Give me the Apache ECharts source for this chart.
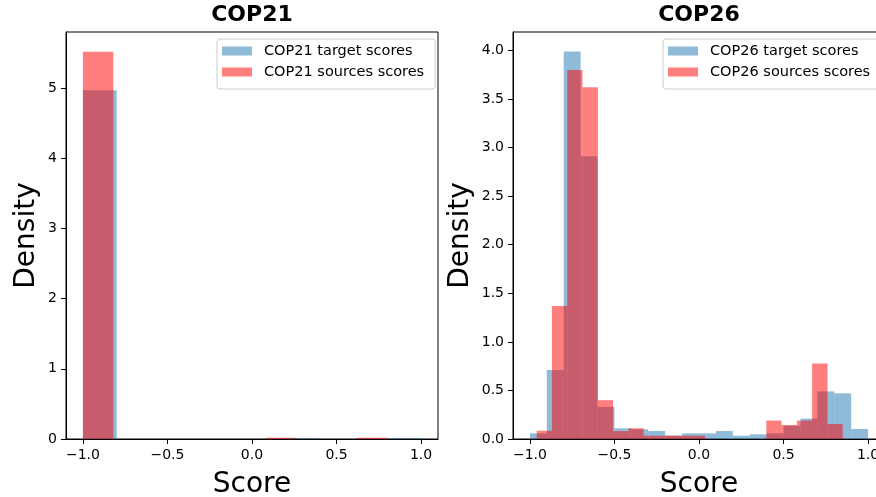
<!DOCTYPE html>
<html>
<head>
<meta charset="utf-8">
<script src="https://cdn.jsdelivr.net/npm/echarts@6/dist/echarts.min.js"></script>
<style>
  html, body { margin: 0; padding: 0; background: #fff; }
  #chart { width: 876px; height: 497px; }
</style>
</head>
<body>
<div id="chart"></div>
<script>
// Score histograms (density) for the two conferences.
// Each series: bin edges (n+1) and density per bin (n).
const cop21TargetEdges = [-1.0, -0.8, -0.6, -0.4, -0.2, 0.0, 0.2, 0.4, 0.6, 0.8, 1.0];
const cop21TargetDensity = [4.97, 0, 0, 0, 0, 0, 0.015, 0, 0, 0.015];
const cop21SourcesEdges = [-1.0, -0.82, -0.64, -0.46, -0.28, -0.10, 0.08, 0.26, 0.44, 0.62, 0.80];
const cop21SourcesDensity = [5.52, 0, 0, 0, 0, 0, 0.018, 0, 0, 0.018];

const cop26TargetEdges = [-1.0, -0.9, -0.8, -0.7, -0.6, -0.5, -0.4, -0.3, -0.2, -0.1, 0.0,
                          0.1, 0.2, 0.3, 0.4, 0.5, 0.6, 0.7, 0.8, 0.9, 1.0];
const cop26TargetDensity = [0.058, 0.71, 3.99, 2.91, 0.33, 0.11, 0.10, 0.082, 0.035, 0.058,
                            0.058, 0.082, 0.034, 0.048, 0.058, 0.135, 0.21, 0.49, 0.47, 0.103];
const cop26SourcesEdges = [-0.96, -0.870, -0.779, -0.689, -0.598, -0.508, -0.417, -0.327, -0.236, -0.146, -0.055,
                           0.036, 0.126, 0.217, 0.307, 0.398, 0.488, 0.579, 0.669, 0.760, 0.850];
const cop26SourcesDensity = [0.085, 1.37, 3.80, 3.62, 0.40, 0.082, 0.11, 0.034, 0.034, 0.034,
                             0.034, 0, 0, 0, 0, 0.19, 0.144, 0.19, 0.778, 0.154];

const xTicks = [-1.0, -0.5, 0.0, 0.5, 1.0];
const cop21YTicks = [0, 1, 2, 3, 4, 5];
const cop26YTicks = [0.0, 0.5, 1.0, 1.5, 2.0, 2.5, 3.0, 3.5, 4.0];

const FONT = 'DejaVu Sans';
const TARGET_COLOR = 'rgba(31,119,180,0.5)';
const SOURCES_COLOR = 'rgba(255,0,0,0.5)';

function toBins(edges, density) {
  return density.map((d, i) => [edges[i], edges[i + 1], d]);
}

function minus(s) { return String(s).replace('-', '\u2212'); }

function histSeries(name, edges, density, color, axisIndex) {
  return {
    type: 'custom',
    name: name,
    xAxisIndex: axisIndex,
    yAxisIndex: axisIndex,
    itemStyle: { color: color },
    encode: { x: [0, 1], y: 2 },
    data: toBins(edges, density),
    renderItem: function (params, api) {
      const h = api.value(2);
      if (!h) return null;
      const p0 = api.coord([api.value(0), h]);
      const p1 = api.coord([api.value(1), 0]);
      return {
        type: 'rect',
        shape: { x: p0[0], y: p0[1], width: p1[0] - p0[0], height: p1[1] - p0[1] },
        style: { fill: color }
      };
    }
  };
}

function xAxisCfg(gridIndex) {
  return {
    type: 'value', gridIndex: gridIndex, min: -1.1, max: 1.1,
    name: 'Score', nameLocation: 'middle', nameGap: 32,
    nameTextStyle: { fontFamily: FONT, fontSize: 28, color: '#000' },
    splitLine: { show: false },
    axisLine: { show: true, onZero: false, lineStyle: { color: '#000', width: 1 } },
    axisTick: { show: true, inside: false, length: 5, customValues: xTicks, lineStyle: { color: '#000', width: 1 } },
    axisLabel: {
      customValues: xTicks, margin: 9, fontFamily: FONT, fontSize: 14, color: '#000',
      formatter: v => minus(v.toFixed(1))
    }
  };
}

function yAxisCfg(gridIndex, max, ticks, digits, gap) {
  return {
    type: 'value', gridIndex: gridIndex, min: 0, max: max,
    name: 'Density', nameLocation: 'middle', nameGap: gap, nameRotate: 90,
    nameTextStyle: { fontFamily: FONT, fontSize: 28, color: '#000' },
    splitLine: { show: false },
    axisLine: { show: true, onZero: false, lineStyle: { color: '#000', width: 1 } },
    axisTick: { show: true, inside: false, length: 5, customValues: ticks, lineStyle: { color: '#000', width: 1 } },
    axisLabel: {
      customValues: ticks, margin: 9, fontFamily: FONT, fontSize: 14, color: '#000',
      formatter: v => v.toFixed(digits)
    }
  };
}

function legendCfg(left, names) {
  return {
    left: left, top: 39, orient: 'vertical', data: names,
    icon: 'rect', itemWidth: 30, itemHeight: 9, itemGap: 5,
    padding: [4, 11, 9, 5],
    backgroundColor: 'rgba(255,255,255,0.8)',
    borderColor: '#cccccc', borderWidth: 1, borderRadius: 3,
    selectedMode: false,
    textStyle: { fontFamily: FONT, fontSize: 14.5, color: '#000', lineHeight: 16, padding: [0, 0, 0, 7] }
  };
}

const chart = echarts.init(document.getElementById('chart'), null, { renderer: 'canvas' });
chart.setOption({
  animation: false,
  backgroundColor: '#fff',
  title: [
    { text: 'COP21', left: 252, top: 4, textAlign: 'center', padding: 0,
      textStyle: { fontFamily: FONT, fontSize: 22, fontWeight: 'bold', color: '#000' } },
    { text: 'COP26', left: 699, top: 4, textAlign: 'center', padding: 0,
      textStyle: { fontFamily: FONT, fontSize: 22, fontWeight: 'bold', color: '#000' } }
  ],
  legend: [
    legendCfg(217, ['COP21 target scores', 'COP21 sources scores']),
    legendCfg(663, ['COP26 target scores', 'COP26 sources scores'])
  ],
  grid: [
    { left: 66, top: 32, width: 372, height: 407, show: true, borderColor: '#000', borderWidth: 1,
      containLabel: false, outerBoundsMode: 'none' },
    { left: 513, top: 32, width: 372, height: 407, show: true, borderColor: '#000', borderWidth: 1,
      containLabel: false, outerBoundsMode: 'none' }
  ],
  xAxis: [xAxisCfg(0), xAxisCfg(1)],
  yAxis: [
    yAxisCfg(0, 5.8, cop21YTicks, 0, 25),
    yAxisCfg(1, 4.19, cop26YTicks, 1, 38)
  ],
  series: [
    histSeries('COP21 target scores', cop21TargetEdges, cop21TargetDensity, TARGET_COLOR, 0),
    histSeries('COP21 sources scores', cop21SourcesEdges, cop21SourcesDensity, SOURCES_COLOR, 0),
    histSeries('COP26 target scores', cop26TargetEdges, cop26TargetDensity, TARGET_COLOR, 1),
    histSeries('COP26 sources scores', cop26SourcesEdges, cop26SourcesDensity, SOURCES_COLOR, 1)
  ]
});
</script>
</body>
</html>
